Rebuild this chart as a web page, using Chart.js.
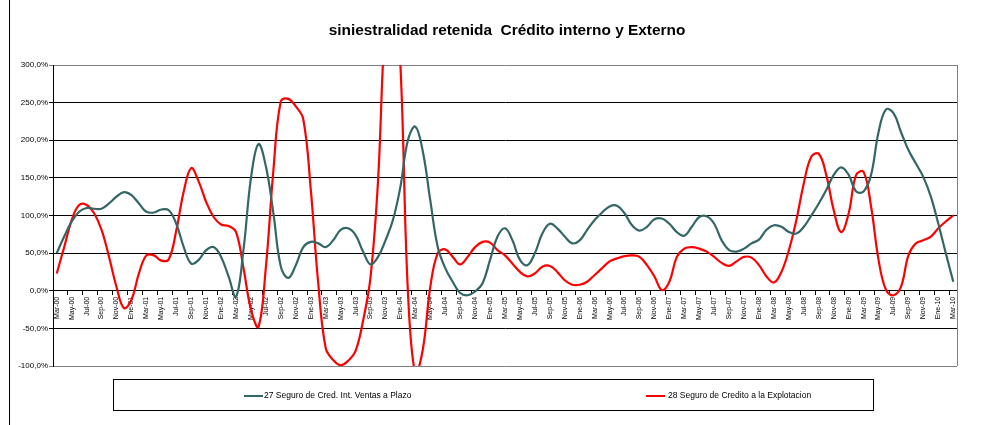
<!DOCTYPE html>
<html>
<head>
<meta charset="utf-8">
<style>
html,body{margin:0;padding:0;background:#fff;}
#wrap{width:989px;height:425px;position:relative;}
</style>
<script src="https://cdn.jsdelivr.net/npm/chart.js@4.4.1/dist/chart.umd.min.js"></script>
</head>
<body>
<div id="wrap"><canvas id="c" width="989" height="425"></canvas></div>
<script>
const chartTitle = 'siniestralidad retenida  Crédito interno y Externo';
const seriesNames = ['27 Seguro de Cred. Int. Ventas a Plazo', '28 Seguro de Credito a la Explotacion'];
const monthNames = ['Ene','Feb','Mar','Abr','May','Jun','Jul','Ago','Sep','Oct','Nov','Dic'];

// monthly categories Mar-00 .. Mar-10
const categories = [];
for (let y = 0; y <= 10; y++) {
  for (let m = 0; m < 12; m++) {
    if (y === 0 && m < 2) continue;
    if (y === 10 && m > 2) continue;
    categories.push(monthNames[m] + '-' + String(y).padStart(2, '0'));
  }
}

const creditoInterno = [
  50, 72, 92, 105, 110, 109, 109, 116, 125, 131, 127, 116,
  105, 104, 108, 107, 89, 58, 36, 41, 54, 58, 45, 19,
  -8, 55, 150, 195, 165, 103, 32, 17, 34, 58, 65, 63,
  58, 67, 81, 83, 74, 52, 35, 45, 67, 94, 138, 200,
  218, 185, 120, 58, 30, 12, -3, -6, -1, 10, 41, 72,
  83, 67, 41, 34, 50, 76, 89, 83, 72, 63, 67, 81,
  94, 104, 112, 113, 103, 87, 80, 85, 95, 96, 89, 78,
  73, 85, 98, 99, 89, 67, 54, 52, 56, 63, 68, 81,
  87, 85, 78, 76, 85, 100, 116, 134, 154, 164, 154, 132,
  132, 154, 211, 241, 236, 211, 187, 169, 151, 125, 89, 50,
  12
];

const creditoExplotacion = [
  23, 58, 94, 114, 114, 103, 81, 45, 5, -23, -12, 23,
  47, 47, 40, 42, 80, 132, 163, 145, 118, 98, 88, 86,
  78, 30, -25, -48, 32, 160, 252, 255, 245, 228, 135, 10,
  -76, -92, -99, -93, -80, -40, 18, 145, 360, 420, 300, 0,
  -110, -78, 5, 50, 55, 45, 35, 45, 58, 65, 64, 54,
  47, 36, 25, 19, 23, 32, 33, 25, 14, 8, 8, 12,
  21, 30, 39, 43, 46, 47, 45, 34, 19, 1, 12, 45,
  56, 58, 56, 52, 45, 37, 33, 39, 45, 44, 34, 19,
  11, 25, 54, 94, 143, 178, 182, 154, 107, 78, 103, 154,
  158, 112, 41, 1, -6, 5, 47, 63, 67, 72, 83, 92,
  100
];

const yTicks = [-100, -50, 0, 50, 100, 150, 200, 250, 300];
const colors = ['#336666', '#ff0000'];
const FONT = '"Liberation Sans", Arial, sans-serif';

const decor = {
  id: 'decor',
  beforeDraw(chart) {
    const ctx = chart.ctx;
    ctx.save();
    ctx.fillStyle = '#fff';
    ctx.fillRect(0, 0, chart.width, chart.height);
    ctx.restore();
  },
  afterDraw(chart) {
    const ctx = chart.ctx;
    const a = chart.chartArea;
    ctx.save();
    // plot area right border
    ctx.strokeStyle = '#808080';
    ctx.lineWidth = 1;
    ctx.beginPath();
    ctx.moveTo(Math.round(a.right) + 0.5, a.top);
    ctx.lineTo(Math.round(a.right) + 0.5, a.bottom);
    ctx.stroke();
    // outer left frame line
    ctx.strokeStyle = '#000';
    ctx.beginPath();
    ctx.moveTo(9.5, 0);
    ctx.lineTo(9.5, 425);
    ctx.stroke();
    // title
    ctx.fillStyle = '#000';
    ctx.font = 'bold 15.4px ' + FONT;
    ctx.textAlign = 'center';
    ctx.textBaseline = 'middle';
    ctx.fillText(chartTitle, 507, 31);
    // legend box
    ctx.strokeStyle = '#000';
    ctx.strokeRect(113.5, 379.5, 760, 31);
    const items = [{x: 244, tx: 264}, {x: 646, tx: 668}];
    ctx.font = '8.5px ' + FONT;
    ctx.textAlign = 'left';
    items.forEach((it, i) => {
      ctx.strokeStyle = colors[i];
      ctx.lineWidth = 2;
      ctx.beginPath();
      ctx.moveTo(it.x, 396);
      ctx.lineTo(it.x + 19, 396);
      ctx.stroke();
      ctx.fillStyle = '#000';
      ctx.fillText(seriesNames[i], it.tx, 396);
    });
    ctx.restore();
  }
};

new Chart(document.getElementById('c'), {
  type: 'line',
  data: {
    labels: categories,
    datasets: [
      {label: seriesNames[0], data: creditoInterno, borderColor: colors[0], borderWidth: 2.2, pointRadius: 0, tension: 0.4, fill: false},
      {label: seriesNames[1], data: creditoExplotacion, borderColor: colors[1], borderWidth: 2.2, pointRadius: 0, tension: 0.4, fill: false}
    ]
  },
  options: {
    responsive: false,
    animation: false,
    events: [],
    layout: {padding: {left: 0, right: 32, top: 65, bottom: 59}},
    plugins: {legend: {display: false}, title: {display: false}, tooltip: {enabled: false}},
    scales: {
      x: {
        type: 'category',
        offset: true,
        position: {y: 0},
        grid: {
          drawOnChartArea: false,
          drawTicks: true,
          tickLength: 4,
          offset: true,
          color: (c) => (c.index % 2 === 0 ? '#000' : 'rgba(0,0,0,0)')
        },
        border: {display: true, color: '#000', width: 1},
        ticks: {
          autoSkip: false,
          maxRotation: 90,
          minRotation: 90,
          padding: 2,
          color: '#000',
          font: {family: FONT, size: 7},
          callback: (v, i) => (i % 2 === 0 ? categories[i] : '')
        }
      },
      y: {
        min: -100,
        max: 300,
        afterBuildTicks: (s) => { s.ticks = yTicks.map(v => ({value: v})); },
        afterFit: (s) => { s.width = 53; },
        grid: {
          color: (c) => ((c.tick && (c.tick.value === 300 || c.tick.value === -100)) ? '#808080' : '#000'),
          tickLength: 4,
          lineWidth: 1
        },
        border: {display: true, color: '#000', width: 1},
        ticks: {
          padding: 1,
          color: '#000',
          font: {family: FONT, size: 8},
          callback: (v) => v.toFixed(1).replace('.', ',') + '%'
        }
      }
    }
  },
  plugins: [decor]
});
</script>
</body>
</html>
